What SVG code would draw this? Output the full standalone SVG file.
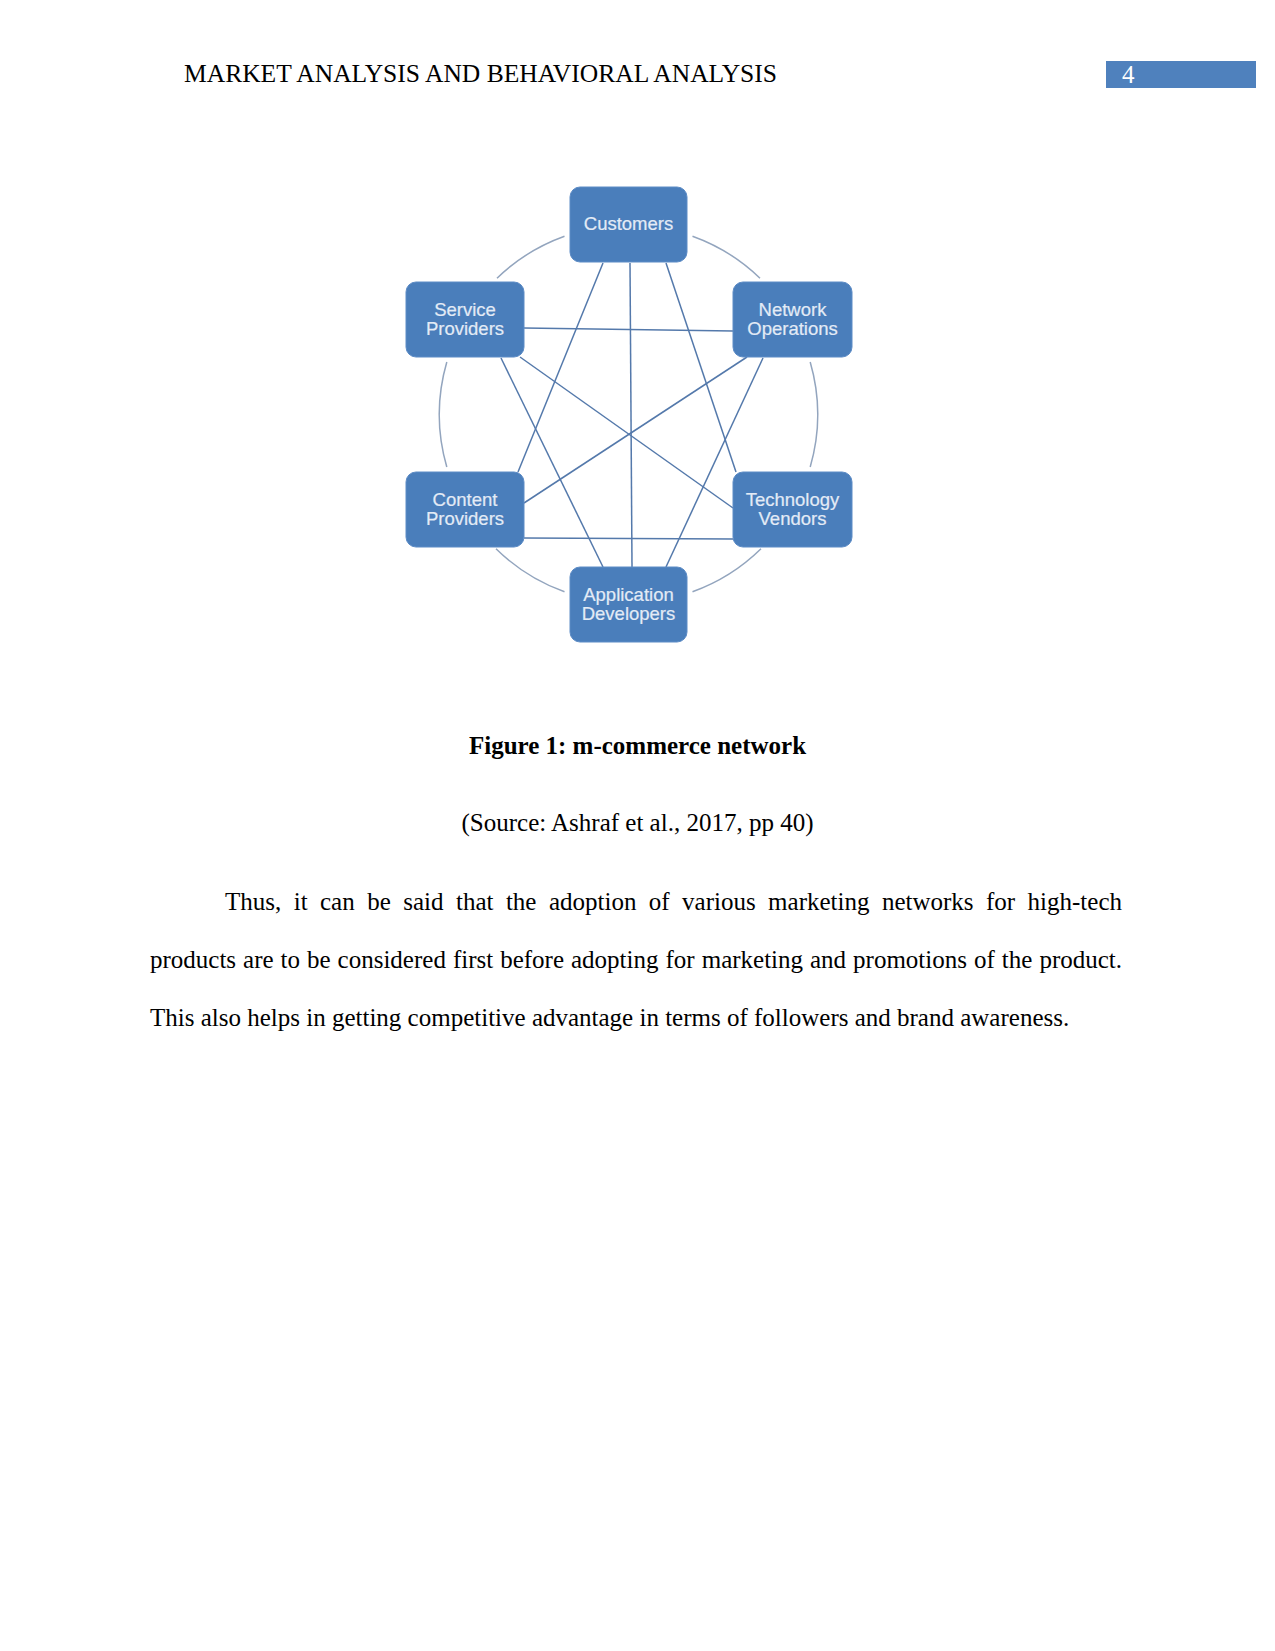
<svg xmlns="http://www.w3.org/2000/svg" width="1275" height="1651" viewBox="0 0 1275 1651">
<style>
.serif{font-family:"Liberation Serif","Times New Roman",serif;font-size:25px;fill:#000}
.bold{font-weight:bold}
.box{fill:#4a7ebb;stroke:#5d8cc6;stroke-width:1}
.lbl{font-family:"Liberation Sans",Arial,sans-serif;font-size:18.5px;fill:#e3ebf6;stroke:#e3ebf6;stroke-width:0.2;text-anchor:middle}
.conn{stroke:#5479ab;stroke-width:1.5;fill:none}
.ring{stroke:#93a5be;stroke-width:1.5;fill:none}
</style>
<rect width="1275" height="1651" fill="#fff"/>
<g id="header">
<text class="serif" x="184" y="82" textLength="593" lengthAdjust="spacingAndGlyphs">MARKET ANALYSIS AND BEHAVIORAL ANALYSIS</text>
<rect x="1106" y="61" width="150" height="27" fill="#4f81bd"/>
<text class="serif" x="1122" y="83" style="fill:#fff">4</text>
</g>
<g id="connectors">
<path class="ring" d="M 692.5 236.2 A 189 189 0 0 1 760 278.2"/>
<path class="ring" d="M 810.2 362 A 189 189 0 0 1 810.2 467"/>
<path class="ring" d="M 761 548.8 A 189 189 0 0 1 692.5 591.8"/>
<path class="ring" d="M 564.5 591.8 A 189 189 0 0 1 496 548.8"/>
<path class="ring" d="M 446.8 467 A 189 189 0 0 1 446.8 362"/>
<path class="ring" d="M 497 278.2 A 189 189 0 0 1 564.5 236.2"/>
<line class="conn" x1="603" y1="263" x2="518" y2="472"/>
<line class="conn" x1="630" y1="263" x2="632" y2="567"/>
<line class="conn" x1="666" y1="263" x2="736" y2="472"/>
<line class="conn" x1="524" y1="328" x2="733" y2="331"/>
<line class="conn" x1="520" y1="357" x2="733" y2="508"/>
<line class="conn" x1="501" y1="358" x2="603" y2="567"/>
<line class="conn" x1="747" y1="357" x2="524" y2="503"/>
<line class="conn" x1="763" y1="358" x2="666" y2="567"/>
<line class="conn" x1="524" y1="538" x2="733" y2="539"/>
</g>
<g id="customers">
<rect class="box" x="570" y="187" width="117" height="75" rx="10"/>
<text class="lbl" x="628.5" y="230">Customers</text>
</g>
<g id="service-providers">
<rect class="box" x="406" y="282" width="118" height="75" rx="10"/>
<text class="lbl" x="465" y="316">Service</text>
<text class="lbl" x="465" y="335">Providers</text>
</g>
<g id="network-operations">
<rect class="box" x="733" y="282" width="119" height="75" rx="10"/>
<text class="lbl" x="792.5" y="316">Network</text>
<text class="lbl" x="792.5" y="335">Operations</text>
</g>
<g id="content-providers">
<rect class="box" x="406" y="472" width="118" height="75" rx="10"/>
<text class="lbl" x="465" y="506">Content</text>
<text class="lbl" x="465" y="525">Providers</text>
</g>
<g id="technology-vendors">
<rect class="box" x="733" y="472" width="119" height="75" rx="10"/>
<text class="lbl" x="792.5" y="506">Technology</text>
<text class="lbl" x="792.5" y="525">Vendors</text>
</g>
<g id="application-developers">
<rect class="box" x="570" y="567" width="117" height="75" rx="10"/>
<text class="lbl" x="628.5" y="601">Application</text>
<text class="lbl" x="628.5" y="620">Developers</text>
</g>
<g id="caption">
<text class="serif bold" x="637.5" y="754" text-anchor="middle">Figure 1: m-commerce network</text>
<text class="serif" x="637.5" y="831" text-anchor="middle">(Source: Ashraf et al., 2017, pp 40)</text>
</g>
<g id="body">
<text class="serif" y="910"><tspan x="225">Thus,</tspan><tspan x="293.7">it</tspan><tspan x="320">can</tspan><tspan x="367.2">be</tspan><tspan x="403.2">said</tspan><tspan x="456">that</tspan><tspan x="505.9">the</tspan><tspan x="548.9">adoption</tspan><tspan x="648.8">of</tspan><tspan x="682.1">various</tspan><tspan x="768.1">marketing</tspan><tspan x="881.9">networks</tspan><tspan x="986">for</tspan><tspan x="1027.6">high-tech</tspan></text>
<text class="serif" y="968"><tspan x="150">products</tspan><tspan x="243.1">are</tspan><tspan x="280.6">to</tspan><tspan x="307">be</tspan><tspan x="337.6">considered</tspan><tspan x="452.9">first</tspan><tspan x="500.2">before</tspan><tspan x="571">adopting</tspan><tspan x="665.5">for</tspan><tspan x="701.7">marketing</tspan><tspan x="810">and</tspan><tspan x="853.1">promotions</tspan><tspan x="974">of</tspan><tspan x="1001.8">the</tspan><tspan x="1039.4">product.</tspan></text>
<text class="serif" x="150" y="1026">This also helps in getting competitive advantage in terms of followers and brand awareness.</text>
</g>
</svg>
